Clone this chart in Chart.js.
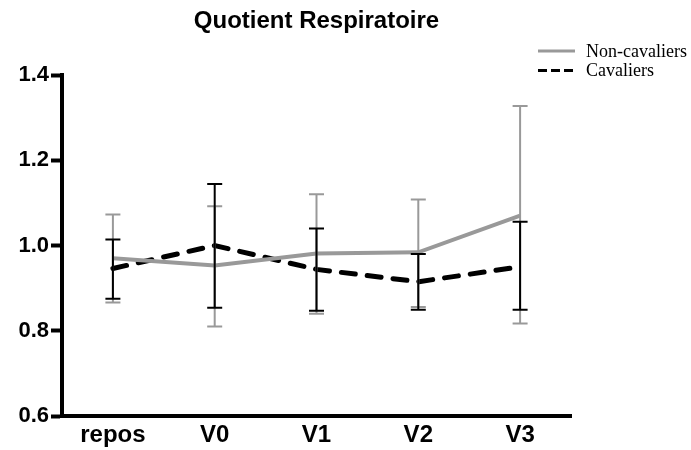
<!DOCTYPE html>
<html>
<head>
<meta charset="utf-8">
<script src="https://cdn.jsdelivr.net/npm/chart.js@4/dist/chart.umd.min.js"></script>
<style>
  html, body { margin: 0; padding: 0; background: #fff; }
  #wrap { width: 691px; height: 450px; }
</style>
</head>
<body>
<div id="wrap"><canvas id="qrChart" width="691" height="450"></canvas></div>
<script>
// Categories and values
const categories = ['repos', 'V0', 'V1', 'V2', 'V3'];

const nonCavMean = [0.97, 0.953, 0.981, 0.984, 1.07];
const nonCavHigh = [1.073, 1.092, 1.12, 1.108, 1.327];
const nonCavLow  = [0.866, 0.81, 0.84, 0.856, 0.817];

const cavMean = [0.946, 1.0, 0.944, 0.915, 0.95];
const cavHigh = [1.014, 1.144, 1.04, 0.98, 1.056];
const cavLow  = [0.875, 0.854, 0.847, 0.849, 0.849];

const yTicks = [0.6, 0.8, 1.0, 1.2, 1.4];

const sansBold = size => ({ family: 'Arial, "Liberation Sans", sans-serif', size: size, weight: 'bold' });

// Error bars drawn with the chart's own scales
const errorBars = {
    id: 'errorBars',
    afterDatasetsDraw(chart) {
        const ctx = chart.ctx;
        const x = chart.scales.x, y = chart.scales.y;
        chart.data.datasets.forEach(ds => {
            ctx.save();
            ctx.strokeStyle = ds.borderColor;
            ctx.lineWidth = 2;
            ds.data.forEach((v, i) => {
                const px = x.getPixelForValue(i);
                const top = y.getPixelForValue(ds.high[i]);
                const bot = y.getPixelForValue(ds.low[i]);
                ctx.beginPath();
                ctx.moveTo(px, top); ctx.lineTo(px, bot);
                ctx.moveTo(px - 7.5, top); ctx.lineTo(px + 7.5, top);
                ctx.moveTo(px - 7.5, bot); ctx.lineTo(px + 7.5, bot);
                ctx.stroke();
            });
            ctx.restore();
        });
    }
};

// Title centred over the plot area, legend in the top right corner
const titleAndLegend = {
    id: 'titleAndLegend',
    afterDraw(chart) {
        const ctx = chart.ctx;
        const area = chart.chartArea;
        ctx.save();
        ctx.fillStyle = '#000';
        ctx.font = 'bold 24px Arial, "Liberation Sans", sans-serif';
        ctx.textAlign = 'center';
        ctx.textBaseline = 'middle';
        ctx.fillText('Quotient Respiratoire', (area.left + area.right) / 2, 21);

        ctx.font = '18px "Liberation Serif", "Times New Roman", serif';
        ctx.textAlign = 'left';
        chart.data.datasets.forEach((ds, i) => {
            const yy = 51 + i * 19.5;
            ctx.beginPath();
            ctx.strokeStyle = ds.borderColor;
            ctx.lineWidth = 3;
            ctx.setLineDash(i === 1 ? [9, 4] : []);
            ctx.moveTo(538, yy); ctx.lineTo(575, yy);
            ctx.stroke();
            ctx.setLineDash([]);
            ctx.fillText(ds.label, 586, yy + 1);
        });
        ctx.restore();
    }
};

const ctx = document.getElementById('qrChart').getContext('2d');
const qrChart = new Chart(ctx, {
    type: 'line',
    data: {
        labels: categories,
        datasets: [
            {
                label: 'Non-cavaliers',
                data: nonCavMean,
                high: nonCavHigh,
                low: nonCavLow,
                borderColor: '#999999',
                borderWidth: 4,
                pointRadius: 0,
                fill: false,
                tension: 0
            },
            {
                label: 'Cavaliers',
                data: cavMean,
                high: cavHigh,
                low: cavLow,
                borderColor: '#000000',
                borderWidth: 5,
                borderDash: [14, 12],
                borderCapStyle: 'round',
                pointRadius: 0,
                fill: false,
                tension: 0
            }
        ]
    },
    options: {
        responsive: false,
        animation: false,
        layout: { padding: { left: 0, right: 120, top: 75, bottom: 0 } },
        plugins: {
            legend: { display: false },
            tooltip: { enabled: false },
            title: { display: false }
        },
        scales: {
            x: {
                offset: true,
                afterFit: axis => { axis.height = 34; },
                grid: { display: true, drawOnChartArea: false, drawTicks: false },
                border: { display: true, color: '#000', width: 4 },
                ticks: {
                    color: '#000',
                    padding: 5,
                    font: sansBold(24)
                }
            },
            y: {
                min: 0.6,
                max: 1.4,
                afterFit: axis => { axis.width = 62; },
                afterBuildTicks: axis => { axis.ticks = yTicks.map(v => ({ value: v })); },
                grid: { display: true, drawOnChartArea: false, drawTicks: true, tickLength: 11, tickColor: '#000', tickWidth: 4 },
                border: { display: true, color: '#000', width: 4 },
                ticks: {
                    color: '#000',
                    padding: 2,
                    callback: v => Number(v).toFixed(1),
                    font: sansBold(22)
                }
            }
        }
    },
    plugins: [errorBars, titleAndLegend]
});
</script>
</body>
</html>
